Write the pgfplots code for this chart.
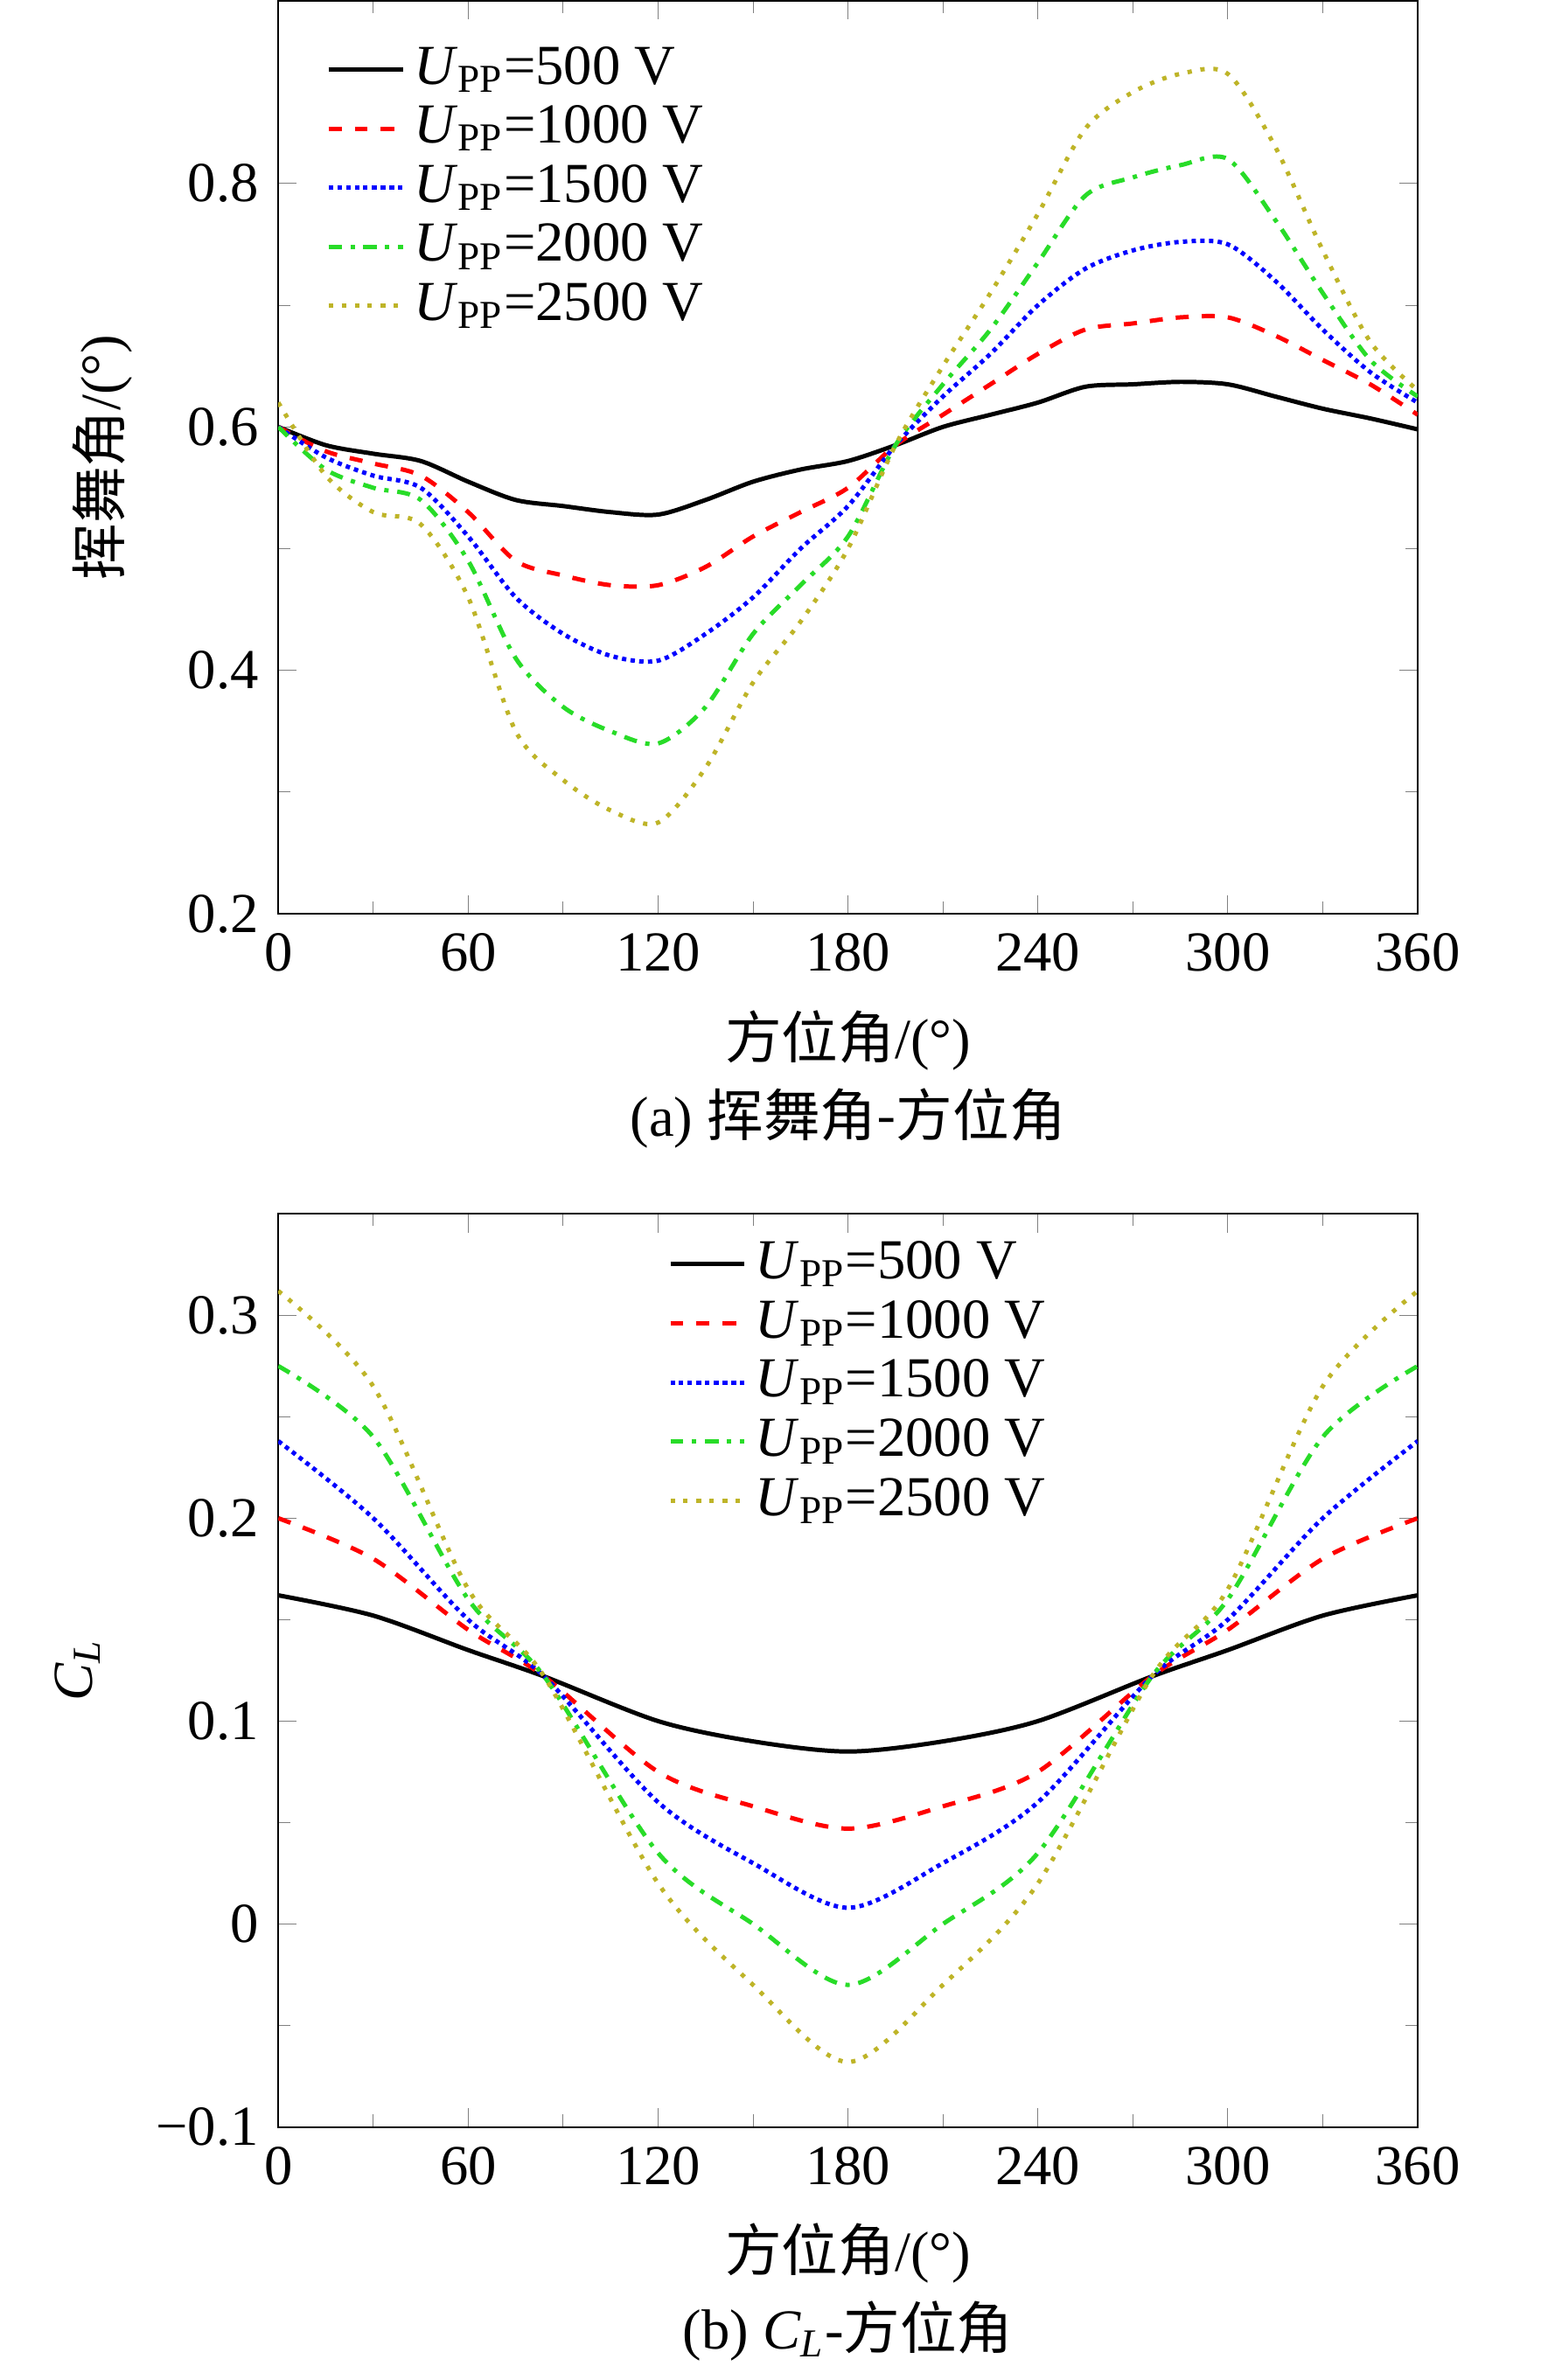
\documentclass[border=0pt]{standalone}
\usepackage{pgfplots}
\pgfplotsset{compat=1.18}
\usepackage{fontspec}
\setmainfont{Liberation Serif}
\newfontfamily\cjk{Noto Sans CJK SC}
\definecolor{olv}{RGB}{190,180,40}
\definecolor{grn}{RGB}{40,220,40}
\begin{document}
\fontsize{13}{15}\selectfont
\begin{tikzpicture}
\pgfplotsset{every axis/.append style={
  scale only axis, width=262pt, height=210pt, xmin=0, xmax=360,
  xtick={0,60,...,360}, minor x tick num=1, minor y tick num=1,
  tick align=inside, tick pos=both,
  /pgf/number format/assume math mode=true,
  tick label style={font=\fontsize{13}{15}\selectfont},
  label style={font=\fontsize{13}{15}\selectfont},
  ylabel style={yshift=4pt},
  legend style={draw=none, fill=none, font=\fontsize{13}{15}\selectfont, row sep=-1pt},
  legend cell align=left,
  every axis plot/.append style={line width=1pt, no marks, smooth},
}}
\newcommand{\U}{\textit{U}\textsubscript{PP}}
\begin{axis}[name=a, ymin=0.2, ymax=0.95, ytick={0.2,0.4,0.6,0.8},
  yticklabels={0.2,0.4,0.6,0.8},
  xlabel={{\cjk 方位角}/(°)}, ylabel={{\cjk 挥舞角}/(°)},
  legend pos=north west]
\addplot[black] coordinates {(0,0.60)(15,0.585)(30,0.578)(45,0.572)(60,0.555)(75,0.54)(90,0.535)(105,0.53)(120,0.528)(135,0.54)(150,0.555)(165,0.565)(180,0.572)(195,0.585)(210,0.6)(225,0.61)(240,0.62)(255,0.633)(270,0.635)(285,0.637)(300,0.635)(315,0.625)(330,0.615)(345,0.607)(360,0.598)};
\addplot[red, dashed] coordinates {(0,0.60)(15,0.58)(30,0.57)(45,0.56)(60,0.53)(75,0.49)(90,0.478)(105,0.47)(120,0.47)(135,0.485)(150,0.51)(165,0.53)(180,0.55)(195,0.585)(210,0.61)(225,0.635)(240,0.66)(255,0.68)(270,0.685)(285,0.69)(300,0.69)(315,0.675)(330,0.655)(345,0.635)(360,0.61)};
\addplot[blue, densely dotted] coordinates {(0,0.60)(15,0.575)(30,0.56)(45,0.55)(60,0.51)(75,0.46)(90,0.43)(105,0.412)(120,0.408)(135,0.43)(150,0.46)(165,0.5)(180,0.535)(195,0.585)(210,0.625)(225,0.66)(240,0.7)(255,0.73)(270,0.745)(285,0.752)(300,0.75)(315,0.72)(330,0.68)(345,0.645)(360,0.62)};
\addplot[grn, dash dot] coordinates {(0,0.60)(15,0.565)(30,0.55)(45,0.54)(60,0.49)(75,0.41)(90,0.37)(105,0.35)(120,0.34)(135,0.37)(150,0.43)(165,0.47)(180,0.51)(195,0.585)(210,0.635)(225,0.68)(240,0.735)(255,0.79)(270,0.805)(285,0.815)(300,0.82)(315,0.77)(330,0.71)(345,0.655)(360,0.625)};
\addplot[olv, dotted] coordinates {(0,0.62)(15,0.56)(30,0.53)(45,0.52)(60,0.46)(75,0.35)(90,0.31)(105,0.285)(120,0.275)(135,0.32)(150,0.39)(165,0.44)(180,0.5)(195,0.585)(210,0.65)(225,0.71)(240,0.775)(255,0.845)(270,0.875)(285,0.89)(300,0.89)(315,0.83)(330,0.745)(345,0.67)(360,0.63)};
\legend{\U=500 V,\U=1000 V,\U=1500 V,\U=2000 V,\U=2500 V}
\end{axis}
\node at ([yshift=-47pt]a.south) {(a) {\cjk 挥舞角-方位角}};
\begin{axis}[at={(a.south west)}, anchor=north west, yshift=-69pt, name=b,
  ymin=-0.1, ymax=0.35, ytick={-0.1,0,0.1,0.2,0.3},
  yticklabels={−0.1,0,0.1,0.2,0.3},
  xlabel={{\cjk 方位角}/(°)}, ylabel={\textit{C\textsubscript{L}}},
  legend style={at={(0.33,0.99)}, anchor=north west}]
\addplot[black] coordinates {(0,0.162)(30,0.152)(60,0.135)(84,0.122)(120,0.1)(150,0.09)(180,0.085)(210,0.09)(240,0.1)(276,0.122)(300,0.135)(330,0.152)(360,0.162)};
\addplot[red, dashed] coordinates {(0,0.2)(30,0.18)(60,0.145)(84,0.122)(120,0.075)(150,0.058)(180,0.047)(210,0.058)(240,0.075)(276,0.122)(300,0.145)(330,0.18)(360,0.2)};
\addplot[blue, densely dotted] coordinates {(0,0.238)(30,0.2)(60,0.15)(84,0.122)(120,0.06)(150,0.03)(180,0.008)(210,0.03)(240,0.06)(276,0.122)(300,0.15)(330,0.2)(360,0.238)};
\addplot[grn, dash dot] coordinates {(0,0.275)(30,0.24)(60,0.16)(84,0.122)(120,0.035)(150,0.0)(180,-0.03)(210,0.0)(240,0.035)(276,0.122)(300,0.16)(330,0.24)(360,0.275)};
\addplot[olv, dotted] coordinates {(0,0.312)(30,0.265)(60,0.165)(84,0.122)(120,0.02)(150,-0.03)(180,-0.068)(210,-0.03)(240,0.02)(276,0.122)(300,0.165)(330,0.265)(360,0.312)};
\legend{\U=500 V,\U=1000 V,\U=1500 V,\U=2000 V,\U=2500 V}
\end{axis}
\node at ([yshift=-47pt]b.south) {(b) \textit{C\textsubscript{L}}-{\cjk 方位角}};
\path (a.north west) ++(-64pt,0) coordinate (L);
\path (a.north east) ++(31.5pt,0) coordinate (R);
\path (L) -- (R);
\end{tikzpicture}
\end{document}
